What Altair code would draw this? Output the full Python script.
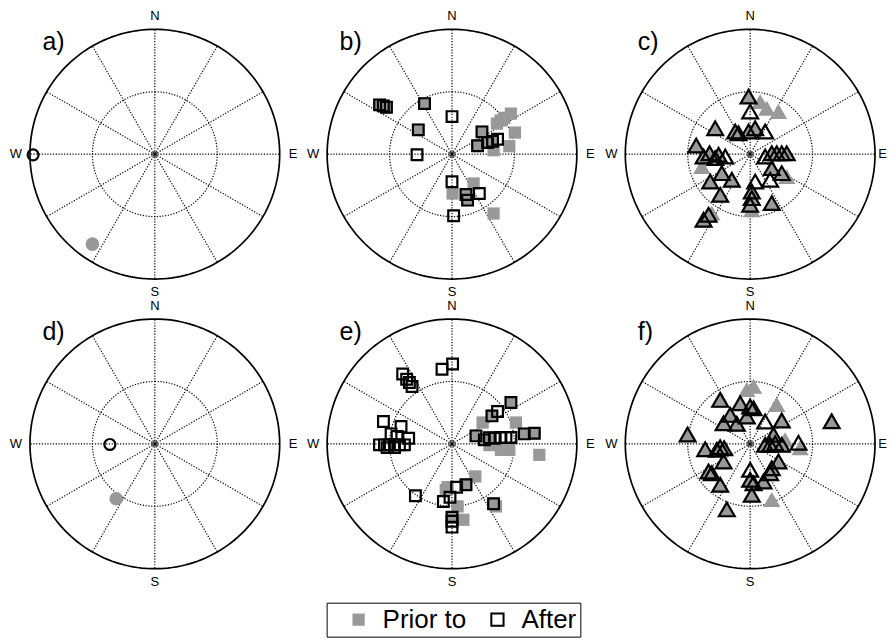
import altair as alt
import numpy as np
import pandas as pd

# ---- pole positions as (east, north) on the unit stereonet -------------------
A_PRIOR = [(-0.50, -0.72)]
A_AFTER = [(-0.975, -0.005)]

B_PRIOR = [(-0.58, 0.395), (-0.55, 0.387), (-0.525, 0.376), (-0.22, 0.405), (-0.27, 0.195),
           (0.24, 0.179), (0.205, 0.067), (0.285, 0.093), (0.325, 0.104),
           (0.112, -0.323), (0.125, -0.368),
           (0.472, 0.325), (0.419, 0.291), (0.36, 0.245), (0.39, 0.27), (0.504, 0.173),
           (0.459, 0.064), (0.333, 0.032), (0.173, -0.235), (0.005, -0.315), (0.333, -0.475)]
B_AFTER = [(-0.58, 0.395), (-0.55, 0.387), (-0.525, 0.376), (-0.22, 0.405), (-0.27, 0.195),
           (0.24, 0.179), (0.205, 0.067), (0.285, 0.093), (0.325, 0.104),
           (0.112, -0.323), (0.125, -0.368),
           (0.0, 0.301), (-0.28, -0.005), (0.365, 0.12), (0.0, -0.221), (0.219, -0.315),
           (0.013, -0.493)]

C_PRIOR = [(-0.013, 0.461), (-0.28, 0.208), (-0.12, 0.181), (-0.093, 0.168), (-0.013, 0.181),
           (0.04, 0.208), (-0.432, 0.069), (-0.373, -0.019), (-0.325, 0.008), (-0.28, -0.032),
           (-0.253, -0.005), (-0.32, -0.219), (-0.227, -0.152), (-0.147, -0.205), (-0.24, -0.325),
           (0.173, 0.008), (0.213, 0.008), (0.253, 0.008), (0.293, 0.008), (0.173, -0.112),
           (0.253, -0.152), (0.013, -0.299), (0.013, -0.352), (0.0, -0.405), (0.173, -0.392),
           (-0.373, -0.525), (-0.333, -0.485),
           (0.08, 0.421), (0.133, 0.368), (0.227, 0.341), (-0.387, -0.099), (0.293, -0.179),
           (0.013, -0.445), (-0.307, -0.472)]
C_AFTER = [(-0.013, 0.461), (-0.28, 0.208), (-0.12, 0.181), (-0.093, 0.168), (-0.013, 0.181),
           (0.04, 0.208), (-0.432, 0.069), (-0.373, -0.019), (-0.325, 0.008), (-0.28, -0.032),
           (-0.253, -0.005), (-0.32, -0.219), (-0.227, -0.152), (-0.147, -0.205), (-0.24, -0.325),
           (0.173, 0.008), (0.213, 0.008), (0.253, 0.008), (0.293, 0.008), (0.173, -0.112),
           (0.253, -0.152), (0.013, -0.299), (0.013, -0.352), (0.0, -0.405), (0.173, -0.392),
           (-0.373, -0.525), (-0.333, -0.485),
           (0.0, 0.341), (0.12, 0.181), (-0.2, -0.019), (0.12, -0.019), (0.16, -0.205),
           (0.04, -0.219)]

D_PRIOR = [(-0.31, -0.44)]
D_AFTER = [(-0.36, -0.005)]

E_PRIOR = [(0.472, 0.331), (0.32, 0.224), (0.192, 0.064), (0.259, 0.032), (0.30, 0.05),
           (0.579, 0.08), (0.659, 0.085), (0.112, -0.328), (0.0, -0.587), (0.333, -0.48),
           (0.245, 0.171), (0.512, 0.171), (0.699, -0.088), (0.392, -0.048), (0.459, -0.048),
           (0.30, -0.01), (0.187, -0.261), (-0.035, -0.347), (-0.05, -0.37), (0.045, -0.501),
           (0.091, -0.608), (0.352, -0.501)]
E_AFTER = [(0.472, 0.331), (0.32, 0.224), (0.192, 0.064), (0.259, 0.032), (0.30, 0.05),
           (0.579, 0.08), (0.659, 0.085), (0.112, -0.328), (0.0, -0.587), (0.333, -0.48),
           (-0.08, 0.597), (0.005, 0.64), (-0.395, 0.56), (-0.363, 0.517), (-0.341, 0.491),
           (-0.32, 0.459), (-0.549, 0.179), (-0.408, 0.139), (-0.488, 0.08), (-0.347, 0.045),
           (-0.44, 0.06), (-0.581, -0.008), (-0.541, -0.008), (-0.501, -0.008), (-0.461, -0.008),
           (-0.421, -0.008), (-0.381, -0.008), (-0.52, -0.03), (-0.46, -0.03),
           (0.365, 0.259), (0.339, 0.045), (0.392, 0.051), (0.432, 0.051), (0.472, 0.051),
           (0.037, -0.347), (-0.016, -0.427), (-0.069, -0.461), (0.0, -0.62), (0.0, -0.667),
           (-0.293, -0.416)]

F_PRIOR = [(-0.24, 0.352), (-0.08, 0.325), (0.0, 0.299), (0.027, 0.285), (-0.16, 0.232),
           (-0.027, 0.219), (-0.213, 0.165), (-0.107, 0.16), (0.253, 0.187), (0.653, 0.181),
           (-0.501, 0.075), (-0.36, -0.043), (-0.267, -0.048), (-0.24, -0.027), (-0.208, -0.035),
           (-0.213, -0.141), (-0.333, -0.221), (-0.307, -0.235), (-0.24, -0.328), (-0.187, -0.525),
           (0.12, -0.008), (0.16, -0.008), (0.2, 0.005), (0.253, -0.008), (0.187, 0.072),
           (0.227, -0.141), (0.173, -0.195), (0.16, -0.235), (0.0, -0.288), (0.027, -0.315),
           (0.013, -0.408), (0.107, -0.301),
           (-0.027, 0.435), (0.027, 0.461), (0.213, 0.315), (0.4, -0.032), (0.28, 0.032),
           (0.173, -0.445)]
F_AFTER = [(-0.24, 0.352), (-0.08, 0.325), (0.0, 0.299), (0.027, 0.285), (-0.16, 0.232),
           (-0.027, 0.219), (-0.213, 0.165), (-0.107, 0.16), (0.253, 0.187), (0.653, 0.181),
           (-0.501, 0.075), (-0.36, -0.043), (-0.267, -0.048), (-0.24, -0.027), (-0.208, -0.035),
           (-0.213, -0.141), (-0.333, -0.221), (-0.307, -0.235), (-0.24, -0.328), (-0.187, -0.525),
           (0.12, -0.008), (0.16, -0.008), (0.2, 0.005), (0.253, -0.008), (0.187, 0.072),
           (0.227, -0.141), (0.173, -0.195), (0.16, -0.235), (0.0, -0.288), (0.027, -0.315),
           (0.013, -0.408), (0.107, -0.301),
           (0.12, 0.179), (0.387, 0.008), (0.0, -0.208)]

SERIES = ["Prior to", "After"]
PANEL_LABELS = ["a)", "b)", "c)", "d)", "e)", "f)"]

# ---- layout: pixels per unit radius and each cell's extent around its centre --
PX = 125.0
COL_EXT = [(148.0, 148.5), (148.5, 149.0), (149.0, 142.0)]   # (left, right)
ROW_EXT = [(144.0, 144.0), (144.0, 144.0)]                   # (top, bottom)
EAST_AT = [1.108, 1.108, 1.06]
FONT = "Liberation Sans"
DOTS = [1.2, 1.6]

# net frame: primitive circle, half-radius circle and 30-degree spokes
theta = np.radians(np.arange(0, 362, 2))
ring = pd.DataFrame({"e": np.sin(theta), "n": np.cos(theta), "k": np.arange(theta.size)})
half_ring = ring.assign(e=ring["e"] * 0.5, n=ring["n"] * 0.5)
az = np.radians(np.arange(0, 360, 30))
spokes = pd.DataFrame({"e": 0.0, "n": 0.0, "e2": np.sin(az), "n2": np.cos(az)})
centre = pd.DataFrame({"e": [0.0], "n": [0.0]})

legend = alt.Legend(
    orient="none", legendX=320, legendY=593, direction="horizontal",
    title=" ", titleOrient="left", titleFontSize=1, titlePadding=15,
    symbolType="square", symbolSize=150, symbolStrokeWidth=2,
    labelFontSize=26, labelFont=FONT, labelColor="black", labelOffset=11,
    columnPadding=18, padding=4, strokeColor="black",
)
fill_enc = alt.Fill("series:N", scale=alt.Scale(domain=SERIES, range=["#999999", "transparent"]),
                    legend=legend)
stroke_enc = alt.Stroke("series:N", scale=alt.Scale(domain=SERIES, range=["transparent", "#000000"]),
                        legend=legend)


def points(pairs, series):
    return pd.DataFrame({"e": [p[0] for p in pairs], "n": [p[1] for p in pairs], "series": series})


def panel(idx, prior, after, shape, prior_size, after_size):
    row, col = divmod(idx, 3)
    left, right = COL_EXT[col]
    top, bottom = ROW_EXT[row]
    xs = alt.Scale(domain=[-left / PX, right / PX], nice=False, zero=False)
    ys = alt.Scale(domain=[-bottom / PX, top / PX], nice=False, zero=False)
    X = alt.X("e:Q", scale=xs, axis=None)
    Y = alt.Y("n:Q", scale=ys, axis=None)

    rays = alt.Chart(spokes).mark_rule(color="black", strokeWidth=1.2, strokeDash=DOTS).encode(
        X, Y, x2="e2:Q", y2="n2:Q")
    inner = alt.Chart(half_ring).mark_line(color="black", strokeWidth=1.2, strokeDash=DOTS).encode(
        X, Y, order="k:Q")
    outer = alt.Chart(ring).mark_line(color="black", strokeWidth=1.7).encode(X, Y, order="k:Q")
    hub = alt.Chart(centre).mark_point(shape="circle", size=18, filled=False, color="black",
                                       strokeWidth=1, opacity=1).encode(X, Y)
    before_pts = alt.Chart(points(prior, "Prior to")).mark_point(
        shape=shape, size=prior_size, filled=True, opacity=1, strokeWidth=2.2).encode(
        X, Y, fill=fill_enc, stroke=stroke_enc)
    after_pts = alt.Chart(points(after, "After")).mark_point(
        shape=shape, size=after_size, filled=True, opacity=1, strokeWidth=2.2).encode(
        X, Y, fill=fill_enc, stroke=stroke_enc)

    compass = pd.DataFrame({"txt": ["N", "S", "W", "E"],
                            "e": [0.0, 0.0, -1.112, EAST_AT[col]],
                            "n": [1.104, -1.104, 0.0, 0.0]})
    dirs = alt.Chart(compass).mark_text(fontSize=13, font=FONT, color="black",
                                        align="center", baseline="middle").encode(X, Y, text="txt:N")
    tag = alt.Chart(pd.DataFrame({"txt": [PANEL_LABELS[idx]], "e": [-0.9], "n": [0.835]})).mark_text(
        fontSize=25, font=FONT, color="black", align="left", baseline="alphabetic").encode(
        X, Y, text="txt:N")

    return alt.layer(rays, inner, outer, hub, before_pts, after_pts, dirs, tag).properties(
        width=left + right, height=top + bottom)


specs = [
    (A_PRIOR, A_AFTER, "circle", 185, 120),
    (B_PRIOR, B_AFTER, "square", 150, 115),
    (C_PRIOR, C_AFTER, "triangle-up", 300, 250),
    (D_PRIOR, D_AFTER, "circle", 185, 120),
    (E_PRIOR, E_AFTER, "square", 150, 115),
    (F_PRIOR, F_AFTER, "triangle-up", 300, 250),
]
panels = [panel(i, *s) for i, s in enumerate(specs)]

rows = [alt.hconcat(*panels[r * 3:(r + 1) * 3], spacing=0, bounds="flush") for r in range(2)]
chart = alt.vconcat(*rows, spacing=0).properties(
    padding={"left": 7, "top": 9, "right": 0, "bottom": 2}
).configure_view(stroke=None)

chart.save("out.html", embed_options={"renderer": "svg", "actions": False})
